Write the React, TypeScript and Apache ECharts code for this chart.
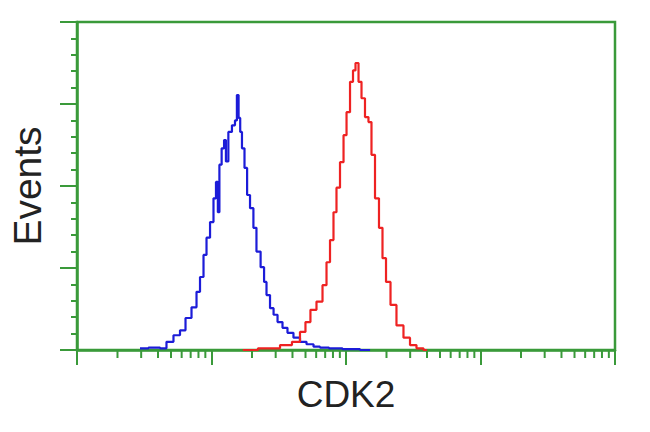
import React, { useEffect, useRef } from "react";
import * as echarts from "echarts";

// Fluorescence intensity (log scale) vs events for the two histograms
const blueX = [2.94, 3.94, 4.36, 4.91, 5.54, 6.14, 6.69, 7.54, 7.94, 8.5, 8.95, 9.42, 10.1, 10.6, 11.0, 11.3, 11.6, 12.2, 12.6, 13.0, 13.7, 14.7, 15.2, 15.7, 16.1, 16.6, 17.1, 18.1, 18.7, 20.0, 21.0, 22.2, 24.2, 25.0, 26.3, 28.2, 29.7, 32.3, 35.2, 38.3, 43.2, 47.9, 54.0, 60.9, 67.4, 82.8, 107, 151];
const blueY = [0.02, 0.03, 0.02, 0.1, 0.18, 0.24, 0.39, 0.52, 0.71, 0.89, 1.16, 1.37, 1.56, 1.85, 2.05, 1.68, 2.26, 2.46, 2.56, 2.3, 2.66, 2.74, 2.8, 3.11, 2.83, 2.66, 2.46, 2.22, 1.89, 1.73, 1.49, 1.2, 1.01, 0.83, 0.67, 0.51, 0.43, 0.34, 0.27, 0.21, 0.15, 0.1, 0.07, 0.04, 0.03, 0.02, 0.01, 0.0];

const redX = [17.1, 28.7, 36.4, 43.2, 47.9, 52.1, 56.8, 64.1, 69.8, 73.5, 78.7, 82.8, 87.2, 93.4, 98.4, 103.5, 110.9, 114.6, 120.8, 127.1, 133.8, 143.2, 150.7, 158.8, 170.0, 182.0, 191.7, 205.3, 223.6, 251.8, 284.2, 314.9, 354.8, 400];
const redY = [0.0, 0.02, 0.06, 0.1, 0.22, 0.34, 0.49, 0.59, 0.79, 1.07, 1.34, 1.68, 1.98, 2.29, 2.62, 2.9, 3.27, 3.41, 3.5, 3.27, 3.07, 2.84, 2.78, 2.38, 1.85, 1.49, 1.12, 0.83, 0.55, 0.3, 0.15, 0.06, 0.02, 0.0];

const xMinorTicks = [2, 3, 4, 5, 6, 7, 8, 9, 20, 30, 40, 50, 60, 70, 80, 90, 200, 300, 400, 500, 600, 700, 800, 900, 2000, 3000, 4000, 5000, 6000, 7000, 8000, 9000];

const xName = "CDK2";
const yName = "Events";

const GREEN = "#3a9a3a";

export default function App() {
  const ref = useRef<HTMLDivElement>(null);
  useEffect(() => {
    if (!ref.current) return;
    const chart = echarts.init(ref.current, undefined, { renderer: "svg" });
    const pair = (xs: number[], ys: number[]) => xs.map((x, i) => [x, ys[i]]);
    chart.setOption({
      animation: false,
      grid: {
        left: 76,
        right: 35,
        top: 22,
        bottom: 82,
        show: true,
        borderColor: GREEN,
        borderWidth: 2.5,
        backgroundColor: "transparent",
      },
      xAxis: {
        type: "log",
        logBase: 10,
        min: 1,
        max: 10000,
        name: xName,
        nameLocation: "middle",
        nameGap: 26,
        nameTextStyle: { fontSize: 37, color: "#222", fontFamily: "Liberation Sans, Arial, sans-serif" },
        axisLine: { show: true, lineStyle: { color: GREEN, width: 2.5 } },
        axisTick: { show: true, length: 15, lineStyle: { color: GREEN, width: 2 } },
        axisLabel: { show: false },
        splitLine: { show: false },
      },
      yAxis: {
        type: "value",
        min: 0,
        max: 4,
        interval: 1,
        name: yName,
        nameLocation: "middle",
        nameGap: 30,
        nameTextStyle: { fontSize: 39, color: "#222", fontFamily: "Liberation Sans, Arial, sans-serif" },
        axisLine: { show: true, lineStyle: { color: GREEN, width: 2.5 } },
        axisTick: { show: true, length: 17, lineStyle: { color: GREEN, width: 2 } },
        minorTick: { show: true, splitNumber: 5, length: 6, lineStyle: { color: GREEN, width: 2 } },
        axisLabel: { show: false },
        splitLine: { show: false },
        minorSplitLine: { show: false },
      },
      series: [
        {
          type: "line",
          step: "middle",
          data: pair(blueX, blueY),
          showSymbol: false,
          lineStyle: { color: "#1c1cd8", width: 2.2 },
          z: 3,
        },
        {
          type: "line",
          step: "middle",
          data: pair(redX, redY),
          showSymbol: false,
          lineStyle: { color: "#ee2222", width: 2.2 },
          z: 3,
        },
        {
          type: "custom",
          clip: false,
          silent: true,
          data: xMinorTicks.map((v) => [v, 0]),
          renderItem: (params: any, api: any) => {
            const p = api.coord([api.value(0), 0]);
            return {
              type: "line",
              shape: { x1: p[0], y1: p[1], x2: p[0], y2: p[1] + 8 },
              style: { stroke: GREEN, lineWidth: 2 },
            };
          },
          z: 2,
        },
      ],
    });
    return () => chart.dispose();
  }, []);
  return (
    <div
      ref={ref}
      style={{ position: "fixed", left: 0, top: 0, width: 650, height: 432, background: "#fff" }}
    />
  );
}
